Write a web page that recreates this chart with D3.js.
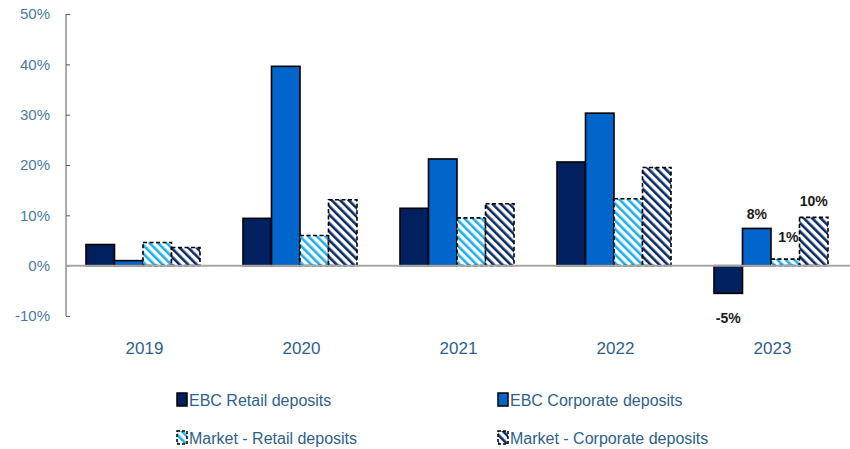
<!DOCTYPE html>
<html>
<head>
<meta charset="utf-8">
<script src="https://cdn.jsdelivr.net/npm/d3@7"></script>
<style>
  body { margin: 0; background: #fff; }
  text { font-family: "Liberation Sans Narrow", "Liberation Sans", sans-serif; }
</style>
</head>
<body>
<div class="vis-holder"></div>
<script>
const width = 850;
const height = 449;

const years = ["2019", "2020", "2021", "2022", "2023"];
const ebcRetail = [4.2, 9.4, 11.4, 20.6, -5.5];
const ebcCorporate = [1.0, 39.6, 21.2, 30.3, 7.4];
const marketRetail = [4.6, 6.0, 9.5, 13.3, 1.3];
const marketCorporate = [3.6, 13.1, 12.3, 19.5, 9.6];
const seriesNames = ["EBC Retail deposits", "EBC Corporate deposits", "Market - Retail deposits", "Market - Corporate deposits"];
const yTicks = [-10, 0, 10, 20, 30, 40, 50];
// only the 2023 bars carry labels
const labels2023 = ["-5%", "8%", "1%", "10%"];

const series = [ebcRetail, ebcCorporate, marketRetail, marketCorporate];

const svg = d3.select(".vis-holder").append("svg")
    .attr("width", width)
    .attr("height", height);

const defs = svg.append("defs");
function hatch(id, color) {
    const p = defs.append("pattern")
        .attr("id", id)
        .attr("patternUnits", "userSpaceOnUse")
        .attr("width", 6)
        .attr("height", 6)
        .attr("patternTransform", "rotate(-45)");
    p.append("rect").attr("width", 6).attr("height", 6).attr("fill", "#fff");
    p.append("rect").attr("x", 0).attr("width", 2.6).attr("height", 6).attr("fill", color);
}
hatch("hatchLight", "#1cb0ec");
hatch("hatchDark", "#0b2a66");

const fills = ["#002060", "#0066cc", "url(#hatchLight)", "url(#hatchDark)"];
const dashed = [false, false, true, true];

const x0 = d3.scaleBand().domain(years).range([66, 851]).paddingInner(0).paddingOuter(0);
const x1 = d3.scaleBand().domain(d3.range(4)).range([20, x0.bandwidth() - 23]);
const y = d3.scaleLinear().domain([-10, 50]).range([316, 14]);

// y axis
const yAxis = d3.axisRight(y).tickValues(yTicks).tickSize(4).tickFormat(d => d + "%");
const ya = svg.append("g").attr("transform", "translate(66,0)").call(yAxis);
ya.select(".domain").attr("stroke", "#595959").attr("d", "M0," + y(50) + "V" + y(-10));
ya.selectAll(".tick line").attr("stroke", "#595959");
ya.selectAll(".tick text")
    .attr("x", -16)
    .attr("text-anchor", "end")
    .attr("fill", "#4a78a6")
    .style("font-size", "15px");

// bars
const groups = svg.selectAll(".year")
    .data(years)
    .enter().append("g")
    .attr("transform", d => "translate(" + x0(d) + ",0)");

groups.each(function(yr, i) {
    const g = d3.select(this);
    series.forEach(function(s, k) {
        const v = s[i];
        g.append("rect")
            .attr("x", x1(k))
            .attr("width", x1.bandwidth())
            .attr("y", y(Math.max(v, 0)))
            .attr("height", Math.abs(y(v) - y(0)))
            .attr("fill", fills[k])
            .attr("stroke", "#000")
            .attr("stroke-width", 1.6)
            .attr("stroke-dasharray", dashed[k] ? "4,2.5" : null);
    });
});

// zero line
svg.append("line")
    .attr("x1", 66).attr("x2", width)
    .attr("y1", y(0)).attr("y2", y(0))
    .attr("stroke", "#a6a6a6")
    .attr("stroke-width", 2);

// year labels
svg.selectAll(".yr")
    .data(years)
    .enter().append("text")
    .attr("x", d => x0(d) + x0.bandwidth() / 2)
    .attr("y", 354)
    .attr("text-anchor", "middle")
    .attr("fill", "#2e5f8e")
    .style("font-size", "17px")
    .text(d => d);

// data labels for 2023
const last = years.length - 1;
const labelDx = [0, 0, 3, 0];
const labelDy = [30, -9, -17, -11];
svg.selectAll(".lbl")
    .data(series)
    .enter().append("text")
    .attr("x", (s, k) => x0(years[last]) + x1(k) + x1.bandwidth() / 2 + labelDx[k])
    .attr("y", (s, k) => y(s[last]) + labelDy[k])
    .attr("text-anchor", "middle")
    .attr("fill", "#1a1a1a")
    .style("font-size", "14px")
    .style("font-weight", "bold")
    .text((s, k) => labels2023[k]);

// legend
const legendPos = [[176, 406], [497, 406], [176, 444], [497, 444]];
const leg = svg.selectAll(".leg")
    .data(seriesNames)
    .enter().append("g")
    .attr("transform", (d, k) => "translate(" + legendPos[k][0] + "," + legendPos[k][1] + ")");
leg.append("rect")
    .attr("x", 1).attr("y", -13)
    .attr("width", 10).attr("height", 13)
    .attr("fill", (d, k) => fills[k])
    .attr("stroke", "#000")
    .attr("stroke-width", 1.5)
    .attr("stroke-dasharray", (d, k) => dashed[k] ? "3,2" : null);
leg.append("text")
    .attr("x", 13)
    .attr("y", 0)
    .attr("fill", "#2e5f8e")
    .style("font-size", "16px")
    .text(d => d);
</script>
</body>
</html>
